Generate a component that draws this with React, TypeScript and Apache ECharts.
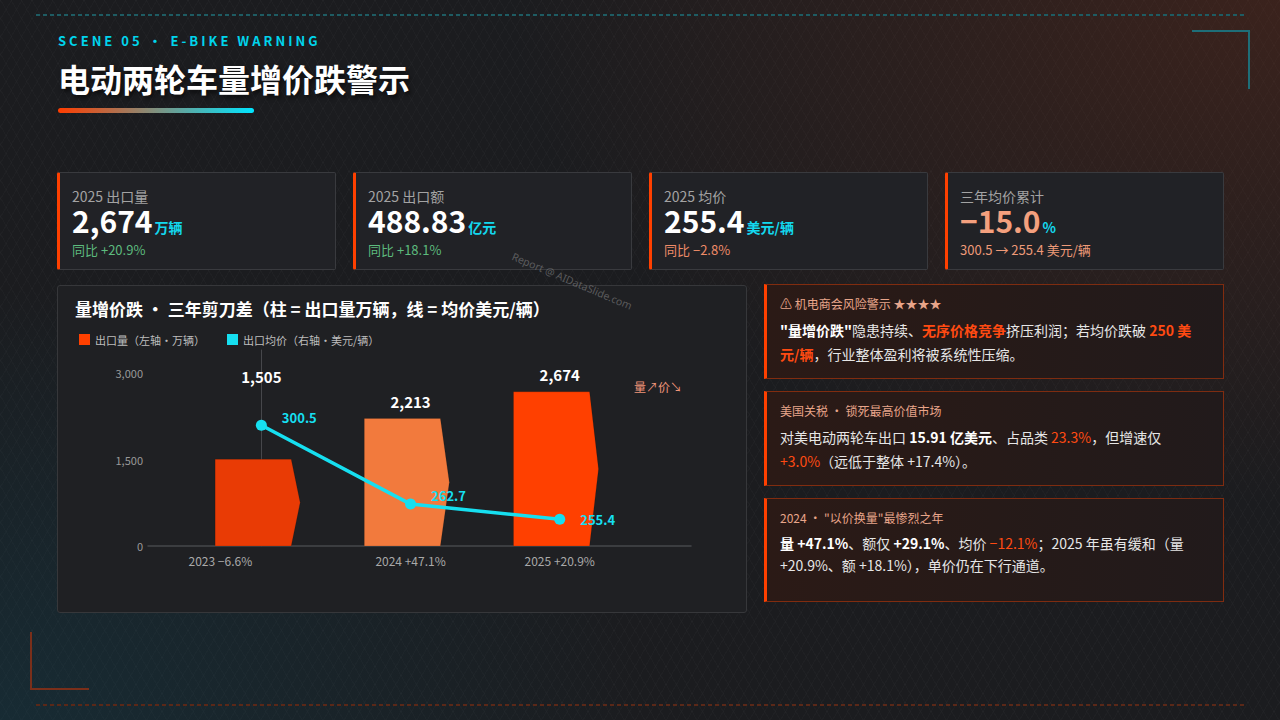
import React, { useEffect, useRef } from 'react';
import * as echarts from 'echarts';

// ---------- data ----------
const years = ['2023', '2024', '2025'];
const volumeYoY = ['−6.6%', '+47.1%', '+20.9%'];
const exportVolume = [1505, 2213, 2674]; // 万辆
const avgPrice = [300.5, 262.7, 255.4]; // 美元/辆
const volumeTicks = [0, 1500, 3000];

const kpiLabels = ['2025 出口量', '2025 出口额', '2025 均价', '三年均价累计'];
const kpiValues = ['2,674', '488.83', '255.4', '−15.0'];
const kpiUnits = ['万辆', '亿元', '美元/辆', '%'];
const kpiNotes = ['同比 +20.9%', '同比 +18.1%', '同比 −2.8%', '300.5 → 255.4 美元/辆'];

// ---------- styles ----------
const FONT = "'Noto Sans CJK SC', 'Noto Sans', sans-serif";
const CYAN = '#16DFF0';
const ORANGE = '#FF4000';
const barColors = ['#E93B05', '#F27A3D', '#FF4000'];
const kpiValueColors = ['#FFFFFF', '#FFFFFF', '#FFFFFF', '#F4A07E'];
const kpiNoteColors = ['#5DBB7E', '#5DBB7E', '#EE8B68', '#EE9A78'];
const barLabelLift = [66, 0, 0];
const lineLabelOffset = [[10, -8], [10, -9], [10, 0]];

function ScissorsChart() {
  const ref = useRef<HTMLDivElement>(null);
  useEffect(() => {
    const chart = echarts.init(ref.current as HTMLDivElement, null, { renderer: 'svg' });
    const renderItem = (params: any, api: any) => {
      const i = params.dataIndex;
      const x = api.value(0);
      const v = api.value(1);
      const top = api.coord([x, v]);
      const base = api.coord([x, 0]);
      const unit = api.size([1, 0])[0];
      const cx = top[0];
      const l = cx - unit * 0.31;
      const r = cx + unit * 0.2;
      const tip = cx + unit * 0.26;
      return {
        type: 'group',
        children: [
          {
            type: 'polygon',
            shape: {
              points: [
                [l, top[1]],
                [r, top[1]],
                [tip, (top[1] + base[1]) / 2],
                [r, base[1]],
                [l, base[1]],
              ],
            },
            style: { fill: barColors[i], stroke: 'rgba(0,0,0,0.12)', lineWidth: 1 },
          },
          {
            type: 'text',
            style: {
              text: v.toLocaleString('en-US'),
              x: cx,
              y: top[1] - 17 - barLabelLift[i],
              align: 'center',
              verticalAlign: 'middle',
              fill: '#FFFFFF',
              fontSize: 15,
              fontWeight: 'bold',
              fontFamily: FONT,
            },
          },
        ],
      };
    };

    chart.setOption({
      animation: false,
      textStyle: { fontFamily: FONT },
      title: {
        text: '量增价跌 · 三年剪刀差（柱 = 出口量万辆，线 = 均价美元/辆）',
        left: 18,
        top: 15,
        padding: 0,
        textStyle: { color: '#FFFFFF', fontSize: 17, fontWeight: 'bold', fontFamily: FONT },
      },
      legend: {
        left: 22,
        top: 49,
        padding: 0,
        icon: 'rect',
        itemWidth: 11,
        itemHeight: 11,
        itemGap: 22,
        textStyle: { color: '#BDBDBD', fontSize: 11, fontFamily: FONT },
        data: ['出口量（左轴·万辆）', '出口均价（右轴·美元/辆）'],
      },
      grid: { left: 91, right: 56, top: 65, bottom: 67, containLabel: false, outerBoundsMode: 'none' },
      xAxis: {
        type: 'value',
        min: -0.76,
        max: 2.88,
        axisLine: { show: true, lineStyle: { color: '#46474B', width: 1.5 } },
        axisTick: { show: false },
        splitLine: { show: false },
        axisLabel: {
          customValues: [0, 1, 2],
          color: '#A9A9A9',
          fontSize: 12,
          margin: 8,
          fontFamily: FONT,
          formatter: (val: number) => {
            const i = Math.round(val);
            const t = `${years[i]} ${volumeYoY[i]}`;
            return i === 0 ? `{shift|${t}}` : t;
          },
          rich: {
            shift: { padding: [0, 82, 0, 0], color: '#A9A9A9', fontSize: 12, fontFamily: FONT },
          },
        },
      },
      yAxis: [
        {
          type: 'value',
          min: 0,
          max: 3400,
          axisLine: { show: true, lineStyle: { color: '#46474B', width: 1 } },
          axisTick: { show: false },
          splitLine: { show: false },
          axisLabel: {
            customValues: volumeTicks,
            color: '#999999',
            fontSize: 11,
            margin: 5,
            fontFamily: FONT,
            formatter: (v: number) => v.toLocaleString('en-US'),
          },
        },
        { type: 'value', min: 242.6, max: 336.6, show: false, splitLine: { show: false } },
      ],
      series: [
        {
          name: '出口量（左轴·万辆）',
          type: 'custom',
          itemStyle: { color: ORANGE },
          encode: { x: 0, y: 1 },
          data: exportVolume.map((v, i) => [i, v]),
          renderItem,
          z: 2,
        },
        {
          name: '出口均价（右轴·美元/辆）',
          type: 'line',
          yAxisIndex: 1,
          data: avgPrice.map((p, i) => ({ value: [i, p], label: { offset: lineLabelOffset[i] } })),
          symbol: 'circle',
          symbolSize: 11,
          lineStyle: { color: CYAN, width: 3.5 },
          itemStyle: { color: CYAN },
          label: {
            show: true,
            position: 'right',
            distance: 5,
            color: CYAN,
            fontWeight: 'bold',
            fontSize: 13,
            fontFamily: FONT,
            formatter: (p: any) => p.value[1].toFixed(1),
          },
          z: 5,
        },
      ],
      graphic: [
        {
          type: 'text',
          left: 577,
          top: 95,
          style: { text: '量↗价↘', fill: '#F0957A', fontSize: 12, fontFamily: FONT },
        },
      ],
    });
    return () => chart.dispose();
  }, []);
  return (
    <div
      ref={ref}
      style={{ position: 'absolute', left: 57, top: 285, width: 690, height: 328 }}
    />
  );
}

const T = ({ children }: { children: any }) => <span>{children}</span>;
const O = ({ children, bold }: { children: any; bold?: boolean }) => (
  <span style={{ color: '#FF4A12', fontWeight: bold ? 700 : 400 }}>{children}</span>
);
const B = ({ children }: { children: any }) => (
  <span style={{ color: '#FFFFFF', fontWeight: 700 }}>{children}</span>
);

function NoteCard({ top, height, title, lh, children }: any) {
  return (
    <div
      style={{
        position: 'absolute',
        left: 764,
        top,
        width: 460,
        height,
        boxSizing: 'border-box',
        border: '1px solid rgba(200,60,10,0.55)',
        borderLeft: `3px solid ${ORANGE}`,
        background: 'linear-gradient(90deg, #2B1A16 0%, #261a18 50%, #211A1B 100%)',
        padding: '10px 22px 0 13px',
      }}
    >
      <div style={{ fontSize: 12, lineHeight: '18px', color: '#E8A58A', whiteSpace: 'nowrap' }}>{title}</div>
      <div
        style={{
          marginTop: 5,
          fontSize: 14,
          lineHeight: `${lh}px`,
          color: '#E6E6E6',
        }}
      >
        {children}
      </div>
    </div>
  );
}

export default function App() {
  useEffect(() => {
    document.body.style.margin = '0';
  }, []);
  return (
    <div
      style={{
        position: 'fixed',
        left: 0,
        top: 0,
        width: 1280,
        height: 720,
        overflow: 'hidden',
        fontFamily: FONT,
        background: [
          'radial-gradient(ellipse 60% 70% at 100% 0%, rgba(110,45,25,0.38), rgba(0,0,0,0) 100%)',
          'radial-gradient(ellipse 50% 60% at 0% 100%, rgba(15,75,95,0.32), rgba(0,0,0,0) 100%)',
          'repeating-linear-gradient(60deg, rgba(255,255,255,0.02) 0px, rgba(255,255,255,0.02) 1px, rgba(0,0,0,0) 1px, rgba(0,0,0,0) 9px)',
          'repeating-linear-gradient(-60deg, rgba(255,255,255,0.02) 0px, rgba(255,255,255,0.02) 1px, rgba(0,0,0,0) 1px, rgba(0,0,0,0) 9px)',
          '#1B1C1F',
        ].join(','),
      }}
    >
      {/* dashed frame lines */}
      <div
        style={{
          position: 'absolute', left: 36, top: 14, width: 1208, height: 2,
          background: 'repeating-linear-gradient(90deg, #1E5C63 0px, #1E5C63 4px, rgba(0,0,0,0) 4px, rgba(0,0,0,0) 7px)',
        }}
      />
      <div
        style={{
          position: 'absolute', left: 36, top: 704, width: 1208, height: 2,
          background: 'repeating-linear-gradient(90deg, #5A2818 0px, #5A2818 4px, rgba(0,0,0,0) 4px, rgba(0,0,0,0) 7px)',
        }}
      />
      {/* corner brackets */}
      <div style={{ position: 'absolute', left: 1192, top: 30, width: 56, height: 57, borderTop: '2px solid #1E6E78', borderRight: '2px solid #1E6E78' }} />
      <div style={{ position: 'absolute', left: 30, top: 632, width: 57, height: 56, borderLeft: '2px solid #7A2F1A', borderBottom: '2px solid #7A2F1A' }} />

      {/* header */}
      <div
        style={{
          position: 'absolute', left: 58, top: 32, fontSize: 13, lineHeight: '18px', fontWeight: 700,
          letterSpacing: 3, color: '#00D4EC', whiteSpace: 'nowrap',
        }}
      >
        SCENE 05 • E-BIKE WARNING
      </div>
      <div
        style={{
          position: 'absolute', left: 58, top: 57, fontSize: 32, lineHeight: '42px', fontWeight: 700,
          color: '#FFFFFF', whiteSpace: 'nowrap', textShadow: '2px 3px 4px rgba(0,0,0,0.6)',
        }}
      >
        电动两轮车量增价跌警示
      </div>
      <div
        style={{
          position: 'absolute', left: 58, top: 108, width: 196, height: 5, borderRadius: 3,
          background: 'linear-gradient(90deg, #FF3D00, #00E5FF)',
        }}
      />

      {/* KPI cards */}
      {kpiLabels.map((lab, i) => (
        <div
          key={lab}
          style={{
            position: 'absolute', left: 57 + i * 296, top: 172, width: 279, height: 98,
            boxSizing: 'border-box', background: '#212226', border: '1px solid #393A3E',
            borderLeft: `3px solid ${ORANGE}`, borderRadius: 2,
          }}
        >
          <div style={{ position: 'absolute', left: 12, top: 13, fontSize: 14, lineHeight: '20px', color: '#A3A3A3', whiteSpace: 'nowrap' }}>{lab}</div>
          <div style={{ position: 'absolute', left: 12, top: 29, fontSize: 30, lineHeight: '36px', fontWeight: 700, color: kpiValueColors[i], whiteSpace: 'nowrap' }}>
            {kpiValues[i]}
            <span style={{ fontSize: 14, fontWeight: 700, color: '#13D8EE', marginLeft: 2 }}>{kpiUnits[i]}</span>
          </div>
          <div style={{ position: 'absolute', left: 12, top: 68, fontSize: 13, lineHeight: '18px', color: kpiNoteColors[i], whiteSpace: 'nowrap' }}>{kpiNotes[i]}</div>
        </div>
      ))}

      {/* chart panel */}
      <div
        style={{
          position: 'absolute', left: 57, top: 285, width: 690, height: 328, boxSizing: 'border-box',
          background: '#1F2023', border: '1px solid #36373A', borderRadius: 3,
        }}
      />
      <ScissorsChart />

      {/* note cards */}
      <NoteCard top={284} height={95} lh={24} title="⚠ 机电商会风险警示 ★★★★">
        <B>"量增价跌"</B><T>隐患持续、</T><O bold>无序价格竞争</O><T>挤压利润；若均价跌破 </T><O bold>250 美</O><O bold>元/辆</O><T>，行业整体盈利将被系统性压缩。</T>
      </NoteCard>
      <NoteCard top={391} height={95} lh={24} title="美国关税 · 锁死最高价值市场">
        <T>对美电动两轮车出口 </T><B>15.91 亿美元</B><T>、占品类 </T><O>23.3%</O><T>，但增速仅 </T><O>+3.0%</O><T>（远低于整体 +17.4%）。</T>
      </NoteCard>
      <NoteCard top={498} height={104} lh={22} title={'2024 · "以价换量"最惨烈之年'}>
        <B>量 +47.1%</B><T>、额仅 </T><B>+29.1%</B><T>、均价 </T><O>−12.1%</O><T>；2025 年虽有缓和（量 </T><T>+20.9%、额 +18.1%），单价仍在下行通道。</T>
      </NoteCard>

      {/* watermark */}
      <div
        style={{
          position: 'absolute', left: 572, top: 281, transform: 'translate(-50%, -50%) rotate(23deg)',
          fontSize: 10.5, color: 'rgba(150,150,150,0.5)', whiteSpace: 'nowrap', fontFamily: "'Noto Sans', sans-serif",
          pointerEvents: 'none',
        }}
      >
        Report @ AIDataSlide.com
      </div>
    </div>
  );
}
